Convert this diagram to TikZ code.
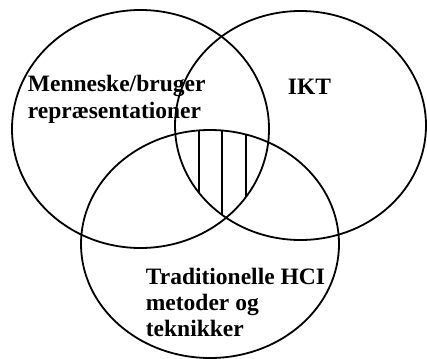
\documentclass[tikz,border=0pt]{standalone}
\usepackage{fontspec}
\setmainfont{Liberation Serif}
\usepackage{tikz}
\usetikzlibrary{positioning}

\begin{document}
\begin{tikzpicture}[x=1pt, y=-1pt, line width=1.8pt,
  every node/.style={inner sep=0pt, align=left, anchor=base west,
    font=\fontsize{23.5}{26}\selectfont\bfseries}]
  \useasboundingbox (0,0) rectangle (427,358);
  \draw (140.5,129) ellipse [x radius=128.5, y radius=119];
  \draw (300.5,125.5) ellipse [x radius=125.5, y radius=114.5];
  \draw (210,244) ellipse [x radius=129, y radius=114];
  \begin{scope}
    \clip (140.5,129) ellipse [x radius=128.5, y radius=119];
    \clip (300.5,125.5) ellipse [x radius=125.5, y radius=114.5];
    \clip (210,244) ellipse [x radius=129, y radius=114];
    \foreach \x in {199,222,246}
      \draw (\x,100) -- (\x,240);
  \end{scope}
  \node (menneske) at (27,118) {Menneske/bruger\\repræsentationer};
  \node (ikt) at (287,95) {IKT};
  \node (hci) at (145,336) {Traditionelle HCI\\metoder og\\teknikker};
\end{tikzpicture}
\end{document}
